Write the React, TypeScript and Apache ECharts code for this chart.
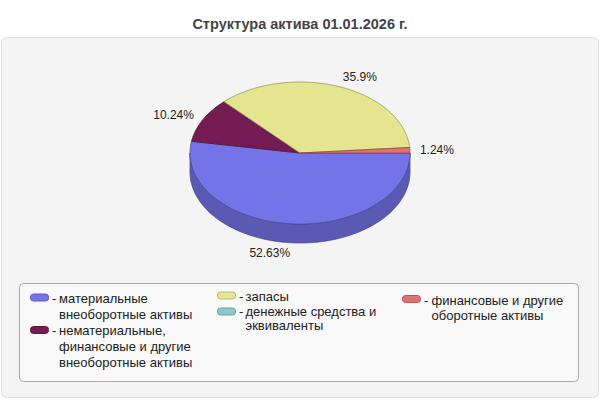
import React, { useEffect, useRef } from "react";
import * as echarts from "echarts";

const titleText = "Структура актива 01.01.2026 г.";
const categories = [
  "материальные внеоборотные активы",
  "нематериальные, финансовые и другие внеоборотные активы",
  "запасы",
  "денежные средства и эквиваленты",
  "финансовые и другие оборотные активы",
];
const values = [52.63, 10.24, 35.9, 0, 1.24];
const colors = ["#7474e8", "#741b53", "#e6e58f", "#8cc9c9", "#e07272"];
const legendLines = [
  ["материальные", "внеоборотные активы"],
  ["нематериальные,", "финансовые и другие", "внеоборотные активы"],
  ["запасы"],
  ["денежные средства и", "эквиваленты"],
  ["финансовые и другие", "оборотные активы"],
];

const FONT = '"Liberation Sans", Arial, sans-serif';

function shade(hex: string, f: number): string {
  const n = parseInt(hex.slice(1), 16);
  const r = Math.round(((n >> 16) & 255) * f);
  const g = Math.round(((n >> 8) & 255) * f);
  const b = Math.round((n & 255) * f);
  return "rgb(" + r + "," + g + "," + b + ")";
}

// pie geometry
const CX = 300;
const CY = 153;
const RX = 110;
const RY = 71;
const DEPTH = 19;

const total = values.reduce((a, b) => a + b, 0);
function sliceAngles(i: number): [number, number] {
  let s = 0;
  for (let k = 0; k < i; k++) s += values[k];
  const a0 = (s / total) * 360;
  const a1 = ((s + values[i]) / total) * 360;
  return [a0, a1];
}
function pt(deg: number, dy = 0): number[] {
  const r = (deg * Math.PI) / 180;
  return [CX + RX * Math.cos(r), CY + RY * Math.sin(r) + dy];
}
function arc(a0: number, a1: number, dy = 0): number[][] {
  const pts: number[][] = [];
  const n = Math.max(2, Math.ceil(Math.abs(a1 - a0) / 1));
  for (let k = 0; k <= n; k++) pts.push(pt(a0 + ((a1 - a0) * k) / n, dy));
  return pts;
}

// legend layout (positions only)
const legendLayout = [
  { sx: 30, cy: 297.5, dx: 52, tx: 59, ly: [298, 314] },
  { sx: 30, cy: 330, dx: 52, tx: 59, ly: [330, 346, 362] },
  { sx: 217, cy: 295.5, dx: 239, tx: 245.5, ly: [296] },
  { sx: 217, cy: 311.5, dx: 239, tx: 245.5, ly: [311.5, 325] },
  { sx: 402, cy: 299, dx: 424, tx: 431.5, ly: [300, 315.5] },
];

function txt(text: string, x: number, y: number, align = "left") {
  return {
    type: "text",
    x,
    y,
    z: 10,
    silent: true,
    style: {
      text,
      font: "13px " + FONT,
      fill: "#222",
      textAlign: align,
      textVerticalAlign: "middle",
      align,
      verticalAlign: "middle",
    },
  };
}

export default function App() {
  const ref = useRef<HTMLDivElement>(null);
  useEffect(() => {
    if (!ref.current) return;
    const chart = echarts.init(ref.current, null, { renderer: "svg" });

    const legendEls: any[] = [];
    categories.forEach((name, i) => {
      const L = legendLayout[i];
      legendEls.push({
        type: "rect",
        z: 10,
        shape: { x: L.sx + 0.5, y: L.cy - 3.5, width: 18, height: 7, r: 3 },
        style: { fill: colors[i], stroke: shade(colors[i], 0.8), lineWidth: 1 },
      });
      legendEls.push(txt("-", L.dx, L.ly[0]));
      legendLines[i].forEach((line, j) => legendEls.push(txt(line, L.tx, L.ly[j])));
    });

    const option: any = {
      animation: false,
      backgroundColor: "#ffffff",
      title: {
        text: titleText,
        left: "center",
        top: 11,
        textStyle: { fontFamily: FONT, fontSize: 14.5, fontWeight: "bold", color: "#444" },
      },
      graphic: [
        {
          type: "rect",
          z: -10,
          shape: { x: 1.5, y: 37.5, width: 597, height: 360, r: 5 },
          style: { fill: "#f4f4f4", stroke: "#dedede", lineWidth: 1 },
        },
        {
          type: "rect",
          z: 0,
          shape: { x: 19.5, y: 283.5, width: 559, height: 98, r: 4 },
          style: { fill: "#f9f9f9", stroke: "#aaaaaa", lineWidth: 1 },
        },
        ...legendEls,
      ],
      series: [
        {
          type: "custom",
          name: "sides",
          coordinateSystem: "none",
          z: 3,
          silent: true,
          data: values,
          renderItem: (params: any, api: any) => {
            const i = params.dataIndex;
            const v = api.value(0);
            if (!v) return { type: "group", children: [] };
            const [a0, a1] = sliceAngles(i);
            const s = Math.max(a0, 0);
            const e = Math.min(a1, 180);
            if (e <= s) return { type: "group", children: [] };
            const top = arc(s, e);
            const bot = arc(e, s, DEPTH);
            return {
              type: "polygon",
              shape: { points: top.concat(bot) },
              style: { fill: shade(colors[i], 0.78), stroke: shade(colors[i], 0.55), lineWidth: 0.7 },
            };
          },
        },
        {
          type: "custom",
          name: "tops",
          coordinateSystem: "none",
          z: 4,
          silent: true,
          data: values,
          renderItem: (params: any, api: any) => {
            const i = params.dataIndex;
            const v = api.value(0);
            if (!v) return { type: "group", children: [] };
            const [a0, a1] = sliceAngles(i);
            const pts = [[CX, CY]].concat(arc(a0, a1));
            const mid = ((a0 + a1) / 2) * (Math.PI / 180);
            const c = Math.cos(mid);
            const sn = Math.sin(mid);
            const lx = CX + (RX + 10) * c;
            const ly = CY + (RY + 10) * sn + (sn > 0 ? DEPTH : 0);
            return {
              type: "group",
              children: [
                {
                  type: "polygon",
                  shape: { points: pts },
                  style: { fill: colors[i], stroke: shade(colors[i], 0.6), lineWidth: 0.7 },
                },
                {
                  type: "text",
                  x: lx,
                  y: ly,
                  style: {
                    text: String(v) + "%",
                    font: "12px " + FONT,
                    fill: "#222",
                    textAlign: c >= 0 ? "left" : "right",
                    align: c >= 0 ? "left" : "right",
                    textVerticalAlign: "middle",
                    verticalAlign: "middle",
                  },
                },
              ],
            };
          },
        },
      ],
    };
    chart.setOption(option);
    return () => chart.dispose();
  }, []);
  return (
    <div
      ref={ref}
      style={{ width: 600, height: 400, position: "absolute", left: 0, top: 0 }}
    />
  );
}
